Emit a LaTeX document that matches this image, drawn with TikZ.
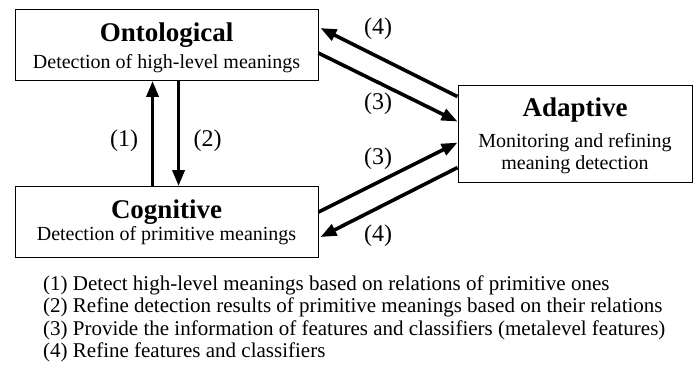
\documentclass[tikz,border=0pt]{standalone}
\usepackage{fontspec}
\setmainfont{Liberation Serif}
\usetikzlibrary{arrows.meta,calc}
\begin{document}
\begin{tikzpicture}[x=1pt,y=-1pt,
  box/.style={draw,line width=0.9pt,inner sep=0pt},
  ttl/.style={anchor=base,inner sep=0pt,font=\fontsize{27}{30}\selectfont\bfseries},
  sub/.style={anchor=base,inner sep=0pt,font=\fontsize{20}{24}\selectfont},
  lab/.style={anchor=base,inner sep=0pt,font=\fontsize{24}{28}\selectfont},
  leg/.style={anchor=base west,inner sep=0pt,font=\fontsize{21}{24}\selectfont},
  arr/.style={line width=3.6pt,-{Triangle[length=16pt,width=12pt]}}]
\useasboundingbox (0,0) rectangle (700,372);
% boxes
\node[box,minimum width=303pt,minimum height=71pt] (onto) at (166.5,45) {};
\node[box,minimum width=303pt,minimum height=71pt] (cog) at (166.5,222) {};
\node[box,minimum width=234pt,minimum height=97pt] (ad) at (575,133.5) {};
% texts
\node[ttl] (ontoT) at (166.5,41) {Ontological};
\node[sub] (ontoS) at (166.5,68) {Detection of high-level meanings};
\node[ttl] (cogT) at (166.5,218) {Cognitive};
\node[sub] (cogS) at (166.5,240) {Detection of primitive meanings};
\node[ttl] (adT) at (575,116) {Adaptive};
\node[sub] (adS1) at (575,147) {Monitoring and refining};
\node[sub] (adS2) at (575,169) {meaning detection};
% connectors
\draw[arr] ($(cog.north west)+(138,0)$) -- ($(onto.south west)+(138,0)$);
\draw[arr] ($(onto.south west)+(164,0)$) -- ($(cog.north west)+(164,0)$);
\draw[arr] ($(ad.north west)+(0,12)$) -- ($(onto.north east)+(2,19)$);
\draw[arr] ($(onto.north east)+(0,44)$) -- ($(ad.north west)+(0,37)$);
\draw[arr] ($(cog.north east)+(0,26)$) -- ($(ad.north west)+(0,58)$);
\draw[arr] ($(ad.north west)+(0,83)$) -- ($(cog.north east)+(2,51)$);
% labels
\node[lab] (l1) at (124,146) {(1)};
\node[lab] (l2) at (207.5,146) {(2)};
\node[lab] (l4a) at (378,34) {(4)};
\node[lab] (l3a) at (378,109) {(3)};
\node[lab] (l3b) at (378,164) {(3)};
\node[lab] (l4b) at (378,241) {(4)};
% legend
\node[leg] (g1) at (43,290) {(1) Detect high-level meanings based on relations of primitive ones};
\node[leg] (g2) at (43,312) {(2) Refine detection results of primitive meanings based on their relations};
\node[leg] (g3) at (43,335) {(3) Provide the information of features and classifiers (metalevel features)};
\node[leg] (g4) at (43,357) {(4) Refine features and classifiers};
\end{tikzpicture}
\end{document}
